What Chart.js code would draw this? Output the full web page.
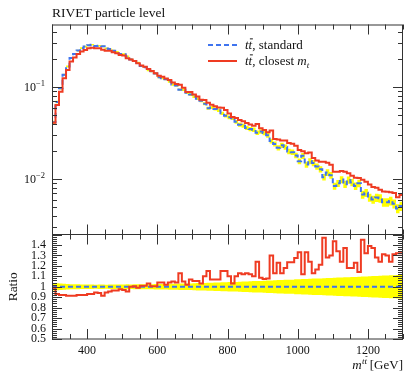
<!DOCTYPE html>
<html><head><meta charset="utf-8">
<script src="https://cdn.jsdelivr.net/npm/chart.js@4/dist/chart.umd.min.js"></script>
<style>
html,body{margin:0;padding:0;background:#fff;}
#wrap{position:relative;width:415px;height:375px;overflow:hidden;}
#ca{position:absolute;left:0;top:0;}
#cb{position:absolute;left:0;top:234px;}
</style></head><body>
<div id="wrap"><canvas id="ca" width="415" height="235"></canvas><canvas id="cb" width="415" height="141"></canvas></div>
<script>
// ---- data (bin edges in GeV) ----
const EDGES = [300,310,320,330,340,350,360,370,380,390,400,410,420,430,440,450,460,470,480,490,
500,510,520,530,540,550,560,570,580,590,600,610,620,630,640,650,660,670,680,690,
700,710,720,730,740,750,760,770,780,790,800,810,820,830,840,850,860,870,880,890,
900,910,920,930,940,950,960,970,980,990,1000,1010,1020,1030,1040,1050,1060,1070,1080,1090,
1100,1110,1120,1130,1140,1150,1160,1170,1180,1190,1200,1210,1220,1230,1240,1250,1260,1270,1280,1290,1300];
// tt̄, standard (normalised cross section per bin)
const STANDARD = [0.0415,0.069,0.097,0.136,0.168,0.208,0.229,0.250,0.265,0.276,
0.285,0.289,0.281,0.282,0.278,0.264,0.260,0.249,0.242,0.230,
0.228,0.216,0.200,0.192,0.184,0.170,0.165,0.153,0.149,0.141,
0.128,0.125,0.122,0.115,0.107,0.104,0.094,0.094,0.087,0.083,
0.079,0.075,0.071,0.066,0.059,0.060,0.058,0.056,0.052,0.049,
0.047,0.046,0.042,0.039,0.038,0.036,0.035,0.0345,0.032,0.033,
0.0318,0.030,0.026,0.0241,0.0219,0.0233,0.0223,0.0200,0.0196,0.0181,
0.0156,0.0179,0.0144,0.0157,0.0150,0.0137,0.0128,0.0105,0.0118,0.0110,
0.0084,0.0090,0.0099,0.0088,0.0098,0.0092,0.0084,0.0090,0.0068,0.0071,
0.0063,0.0060,0.0063,0.0062,0.0056,0.0056,0.0058,0.0054,0.0048,0.0051];
// ratio tt̄ closest m_t / standard
const RATIO = [0.99,0.93,0.92,0.92,0.915,0.915,0.915,0.92,0.92,0.92,
0.93,0.93,0.945,0.94,0.915,0.945,0.955,0.965,0.965,0.975,
0.97,0.955,1.0,1.005,0.99,1.01,1.01,1.03,1.005,1.005,
1.04,1.04,1.02,1.04,1.05,1.04,1.13,1.05,1.02,1.07,
1.055,1.055,1.03,1.10,1.15,1.07,1.07,1.07,1.15,1.15,
1.10,1.03,1.10,1.13,1.12,1.13,1.12,1.10,1.24,1.085,
1.075,1.08,1.30,1.13,1.23,1.13,1.18,1.235,1.235,1.276,
1.33,1.12,1.33,1.24,1.13,1.165,1.21,1.47,1.28,1.30,
1.435,1.34,1.24,1.37,1.18,1.18,1.23,1.14,1.45,1.32,
1.39,1.37,1.28,1.24,1.31,1.30,1.24,1.31,1.32,1.32];
// relative uncertainty of the standard sample (yellow band half-width)
const UNC = [0.036,0.033,0.030,0.028,0.026,0.025,0.024,0.023,0.022,0.022,
0.021,0.021,0.020,0.021,0.021,0.020,0.021,0.022,0.021,0.022,
0.022,0.023,0.022,0.023,0.024,0.023,0.024,0.025,0.025,0.026,
0.026,0.027,0.026,0.028,0.029,0.028,0.030,0.031,0.032,0.032,
0.034,0.035,0.035,0.037,0.038,0.038,0.040,0.041,0.042,0.043,
0.045,0.046,0.046,0.049,0.050,0.050,0.052,0.054,0.054,0.056,
0.058,0.059,0.060,0.062,0.064,0.064,0.066,0.068,0.068,0.071,
0.072,0.073,0.074,0.076,0.078,0.078,0.080,0.082,0.083,0.084,
0.086,0.088,0.088,0.090,0.092,0.093,0.094,0.096,0.098,0.098,
0.101,0.102,0.103,0.105,0.107,0.107,0.110,0.111,0.112,0.115];
const X_TICKS = [300,350,400,450,500,550,600,650,700,750,800,850,900,950,1000,1050,1100,1150,1200,1250,1300];
const X_LABELS = [400,600,800,1000,1200];
const LOG_LABELS = [0.1,0.01];
const LOG_EXP = ['\u22121','\u22122'];
const RATIO_LABELS = [0.5,0.6,0.7,0.8,0.9,1.0,1.1,1.2,1.3,1.4];
const RATIO_TEXT = ['0.5','0.6','0.7','0.8','0.9','1','1.1','1.2','1.3','1.4'];

// ---- styles ----
const SERIF = '"Liberation Serif","DejaVu Serif",serif';
const RED = '#ef3b22', BLUE = '#3f74ef', YEL = '#ffff00', AX = '#333';

function steps(vals){
  const p = vals.map((v,i)=>({x:EDGES[i],y:v}));
  p.push({x:EDGES[vals.length],y:vals[vals.length-1]});
  return p;
}
const CLOSEST = STANDARD.map((s,i)=>s*RATIO[i]);
const ONES = STANDARD.map(s=>s/s);

function line(data,color,dash,w){
  return {data:steps(data),stepped:true,borderColor:color,borderWidth:w,borderDash:dash||[],
    pointRadius:0,fill:false,tension:0};
}
function bandLo(data){return {data:steps(data),stepped:true,borderWidth:0,pointRadius:0,fill:false,borderColor:'rgba(0,0,0,0)'};}
function bandHi(data){return {data:steps(data),stepped:true,borderWidth:0,pointRadius:0,fill:'-1',backgroundColor:YEL,borderColor:'rgba(0,0,0,0)'};}

function font(size,italic){return (italic?'italic ':'')+size+'px '+SERIF;}
function drawRuns(ctx,runs,x,y,align){
  // runs: [text,size,italic,dy]
  let w=0; runs.forEach(r=>{ctx.font=font(r[1],r[2]); w+=ctx.measureText(r[0]).width;});
  let cx = align==='right'? x-w : (align==='center'? x-w/2 : x);
  const start=cx;
  runs.forEach(r=>{ctx.font=font(r[1],r[2]); ctx.fillText(r[0],cx,y+(r[3]||0)); cx+=ctx.measureText(r[0]).width;});
  return {start,width:w};
}
function ttbar(ctx,x,y,size){
  ctx.font=font(size,true);
  const w1=ctx.measureText('t').width;
  ctx.fillText('tt',x,y);
  const w2=ctx.measureText('tt').width;
  ctx.save();ctx.lineWidth=size*0.07;ctx.strokeStyle='#000';
  ctx.beginPath();ctx.moveTo(x+w1+size*0.1,y-size*0.78);ctx.lineTo(x+w2+size*0.05,y-size*0.78);ctx.stroke();ctx.restore();
  return w2;
}

function xTicks(ctx,x,a){
  X_TICKS.forEach(v=>{
    const px=Math.round(x.getPixelForValue(v))+0.5;
    const L = X_LABELS.includes(v)?10:5;
    ctx.beginPath();ctx.moveTo(px,a.top);ctx.lineTo(px,a.top+L);
    ctx.moveTo(px,a.bottom);ctx.lineTo(px,a.bottom-L);ctx.stroke();
  });
}
function yTick(ctx,py,a,L){
  py=Math.round(py)+0.5;
  ctx.beginPath();ctx.moveTo(a.left,py);ctx.lineTo(a.left+L,py);
  ctx.moveTo(a.right,py);ctx.lineTo(a.right-L,py);ctx.stroke();
}

const plugA={id:'plugA',afterDatasetsDraw(chart){
  const {ctx,chartArea:a,scales:{x,y}}=chart;
  ctx.save();
  ctx.strokeStyle=AX;ctx.lineWidth=1;
  ctx.strokeRect(a.left+0.5,a.top+0.5,a.right-a.left-1,a.bottom-a.top);
  xTicks(ctx,x,a);
  for(let e=-3;e<=-1;e++){for(let m=1;m<=9;m++){
    const v=m*Math.pow(10,e);
    if(v<y.min||v>y.max) continue;
    yTick(ctx,y.getPixelForValue(v),a,m===1?10:5);
  }}
  ctx.fillStyle='#111';ctx.textBaseline='alphabetic';
  LOG_LABELS.forEach((v,i)=>{
    const py=y.getPixelForValue(v);
    drawRuns(ctx,[['10',12,false,0],[LOG_EXP[i],8.5,false,-5]],45,py+4,'right');
  });
  // title
  ctx.font=font(13.5,false);ctx.fillText('RIVET particle level',a.left,17);
  // legend
  const lx=208, ly1=45, ly2=61;
  ctx.lineWidth=2;
  ctx.strokeStyle=BLUE;ctx.setLineDash([5,3]);
  ctx.beginPath();ctx.moveTo(lx,ly1);ctx.lineTo(lx+29,ly1);ctx.stroke();
  ctx.setLineDash([]);ctx.strokeStyle=RED;
  ctx.beginPath();ctx.moveTo(lx,ly2);ctx.lineTo(lx+29,ly2);ctx.stroke();
  let tx=lx+37;
  let w=ttbar(ctx,tx,ly1+4,13);
  drawRuns(ctx,[[', standard',13,false,0]],tx+w,ly1+4,'left');
  w=ttbar(ctx,tx,ly2+4,13);
  drawRuns(ctx,[[', closest ',13,false,0],['m',13,true,0],['t',9,true,2.5]],tx+w,ly2+4,'left');
  ctx.restore();
}};

const plugB={id:'plugB',afterDatasetsDraw(chart){
  const {ctx,chartArea:a,scales:{x,y}}=chart;
  ctx.save();
  ctx.strokeStyle=AX;ctx.lineWidth=1;
  ctx.strokeRect(a.left+0.5,a.top,a.right-a.left-1,a.bottom-a.top);
  xTicks(ctx,x,a);
  for(let i=0;i<=50;i++){
    const v=0.5+i*0.02;
    yTick(ctx,y.getPixelForValue(v),a,(i%5===0)?10:5);
  }
  ctx.fillStyle='#111';ctx.textBaseline='middle';ctx.textAlign='right';
  ctx.font=font(12,false);
  RATIO_LABELS.forEach((v,i)=>{ctx.fillText(RATIO_TEXT[i],46,y.getPixelForValue(v));});
  ctx.textAlign='center';
  X_LABELS.forEach(v=>{ctx.fillText(String(v),x.getPixelForValue(v),a.bottom+12);});
  // axis title
  ctx.textAlign='left';ctx.textBaseline='alphabetic';
  const runs=[['m',13,true,0]];
  ctx.font=font(13,true);const mw=ctx.measureText('m').width;
  ctx.font=font(9,true);const tw=ctx.measureText('tt').width;
  ctx.font=font(13,false);const gw=ctx.measureText(' [GeV]').width;
  const total=mw+tw+gw, sx=a.right-total, by=a.bottom+30;
  ctx.font=font(13,true);ctx.fillText('m',sx,by);
  ttbar(ctx,sx+mw+0.5,by-5.5,9);
  ctx.font=font(13,false);ctx.fillText(' [GeV]',sx+mw+tw,by);
  // y title
  ctx.save();ctx.translate(17,(a.top+a.bottom)/2);ctx.rotate(-Math.PI/2);
  ctx.textAlign='center';ctx.font=font(13.5,false);ctx.fillText('Ratio',0,0);ctx.restore();
  ctx.restore();
}};

const common={responsive:false,animation:false,devicePixelRatio:1,
  plugins:{legend:{display:false},tooltip:{enabled:false}},events:[]};

new Chart(document.getElementById('ca'),{
  type:'line',
  data:{datasets:[
    line(CLOSEST,RED,null,2),
    line(STANDARD,BLUE,[5,3],2),
    bandLo(STANDARD.map((s,i)=>s*(1-UNC[i]))),
    bandHi(STANDARD.map((s,i)=>s*(1+UNC[i])))
  ]},
  options:Object.assign({},common,{
    layout:{padding:{left:52,right:12,top:24.5,bottom:0.5}},
    scales:{
      x:{type:'linear',min:300,max:1300,display:false},
      y:{type:'logarithmic',min:0.0025,max:0.48,display:false}
    }
  }),
  plugins:[plugA]
});

new Chart(document.getElementById('cb'),{
  type:'line',
  data:{datasets:[
    line(RATIO,RED,null,2),
    line(ONES,BLUE,[5,3],2),
    bandLo(UNC.map(u=>1-u)),
    bandHi(UNC.map(u=>1+u))
  ]},
  options:Object.assign({},common,{
    layout:{padding:{left:52,right:12,top:0.5,bottom:36}},
    scales:{
      x:{type:'linear',min:300,max:1300,display:false},
      y:{type:'linear',min:0.5,max:1.5,display:false}
    }
  }),
  plugins:[plugB]
});
</script>
</body></html>
